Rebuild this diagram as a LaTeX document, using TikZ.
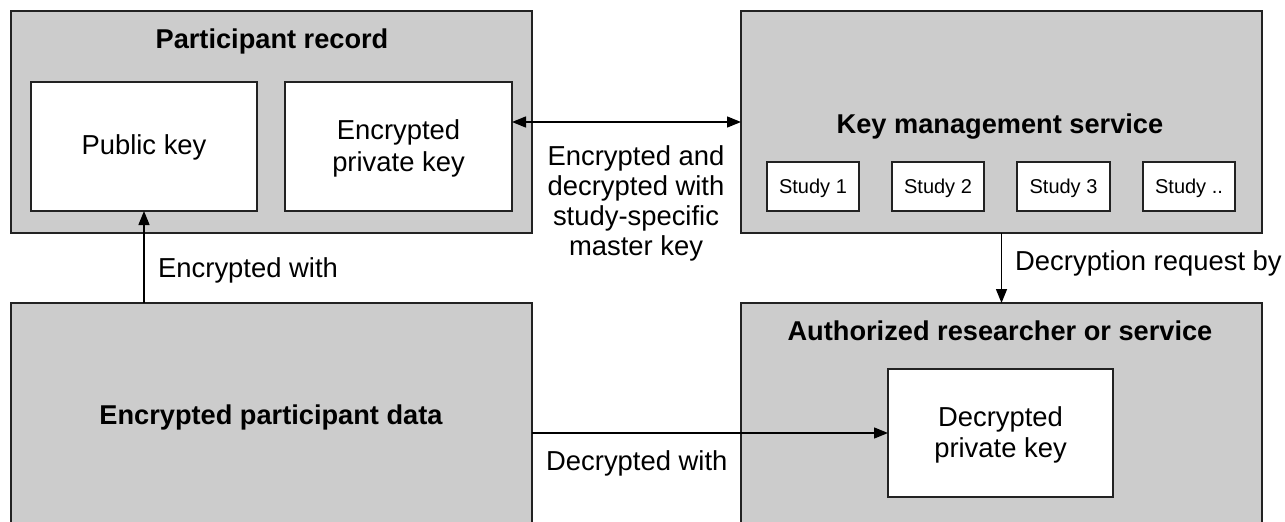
\documentclass[tikz,border=0pt]{standalone}
\usepackage{fontspec}
\setmainfont{Liberation Sans}
\usetikzlibrary{arrows.meta,calc}
\definecolor{boxgray}{HTML}{CCCCCC}
\definecolor{edge}{HTML}{222222}
\tikzset{
  outerbox/.style={draw=edge,line width=1.6pt,fill=boxgray,inner sep=0pt,outer sep=0pt,anchor=north west},
  innerbox/.style={draw=edge,line width=1.6pt,fill=white,inner sep=0pt,outer sep=0pt,anchor=north west},
  studybox/.style={draw=edge,line width=1.5pt,fill=white,inner sep=0pt,outer sep=0pt,anchor=north west,minimum width=92pt,minimum height=49pt},
  ttl/.style={font=\fontsize{27.2}{31}\selectfont\bfseries,inner sep=0pt,anchor=base},
  lbl/.style={font=\fontsize{27.4}{30}\selectfont,inner sep=0pt,align=center},
  ilbl/.style={font=\fontsize{27.4}{31.5}\selectfont,inner sep=0pt,align=center},
  stl/.style={font=\fontsize{20}{24}\selectfont,inner sep=0pt,anchor=base},
  conn/.style={draw=black,line width=1.4pt,-{Triangle[length=14pt,width=11pt]}},
  dconn/.style={draw=black,line width=1.4pt,{Triangle[length=14pt,width=11pt]}-{Triangle[length=14pt,width=11pt]}}
}
\begin{document}
\begin{tikzpicture}[x=1pt,y=-1pt]
\useasboundingbox (0,0) rectangle (1285,522);
% outer boxes
\node[outerbox,minimum width=521pt,minimum height=222pt] (pr) at (11,11) {};
\node[outerbox,minimum width=521pt,minimum height=222pt] (kms) at (741,11) {};
\node[outerbox,minimum width=521pt,minimum height=240pt] (epd) at (11,303) {};
\node[outerbox,minimum width=521pt,minimum height=240pt] (ars) at (741,303) {};
% inner boxes
\node[innerbox,minimum width=226pt,minimum height=129pt] (pub) at (31,82) {};
\node[innerbox,minimum width=227pt,minimum height=129pt] (epk) at (285,82) {};
\node[innerbox,minimum width=225pt,minimum height=128pt] (dpk) at (888,369) {};
\node[studybox] (s1) at (767,162) {};
\node[studybox] (s2) at (892,162) {};
\node[studybox,minimum width=93pt] (s3) at (1017,162) {};
\node[studybox] (s4) at (1143,162) {};
% titles
\node[ttl] (tpr) at (272,48) {Participant record};
\node[ttl] (tkms) at (1000,133) {Key management service};
\node[ttl] (tepd) at (271,424) {Encrypted participant data};
\node[ttl] (tars) at (1000,340) {Authorized researcher or service};
% inner texts
\node[ilbl] (lpub) at ($(pub.center)+(0,1)$) {Public key};
\node[ilbl] (lepk) at ($(epk.center)+(0,2)$) {Encrypted\\private key};
\node[ilbl] (ldpk) at ($(dpk.center)+(0,2)$) {Decrypted\\private key};
\node[stl] (ls1) at ($(s1.center)+(0,7)$) {Study 1};
\node[stl] (ls2) at ($(s2.center)+(0,7)$) {Study 2};
\node[stl] (ls3) at ($(s3.center)+(0,7)$) {Study 3};
\node[stl] (ls4) at ($(s4.center)+(0,7)$) {Study ..};
% connectors
\draw[dconn] (epk.east |- kms.west) -- (kms.west);
\draw[conn] (epd.north -| pub.south) -- (pub.south);
\draw[conn] (kms.south) -- (ars.north);
\draw[conn] (epd.east |- dpk.west) -- (dpk.west);
% connector labels
\node[lbl] (lmaster) at (636,203) {Encrypted and\\decrypted with\\study-specific\\master key};
\node[lbl,anchor=base west] (lencw) at (158,277) {Encrypted with};
\node[lbl,anchor=base west] (ldecr) at (1015,270) {Decryption request by};
\node[lbl,anchor=base west] (ldecw) at (546,470) {Decrypted with};
\end{tikzpicture}
\end{document}
